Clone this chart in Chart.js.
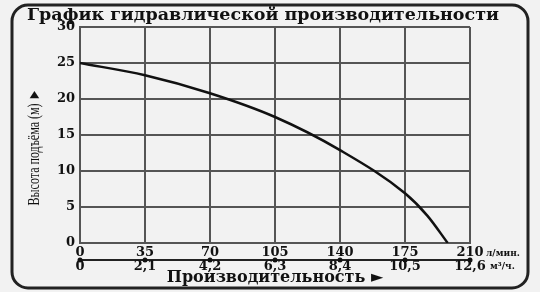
<!DOCTYPE html>
<html>
<head>
<meta charset="utf-8">
<script src="https://cdn.jsdelivr.net/npm/chart.js@4"></script>
<style>
  html, body { margin: 0; padding: 0; background: #f2f2f2; }
  #wrap { width: 540px; height: 292px; }
</style>
</head>
<body>
<div id="wrap"><canvas id="pumpChart" width="540" height="292"></canvas></div>
<script>
// flow in l/min, head in m
const flowLpm = [0, 35, 70, 105, 140, 175, 187, 198];
const headM = [25, 23.3, 20.8, 17.5, 12.9, 6.9, 3.8, 0];
const flowTicks = [0, 35, 70, 105, 140, 175, 210];
const flowM3Ticks = ['0', '2,1', '4,2', '6,3', '8,4', '10,5', '12,6'];
const headTicks = [0, 5, 10, 15, 20, 25, 30];

const serif = '"DejaVu Serif", "Liberation Serif", serif';

// frame, title, y title, unit labels and tick dots
const framePlugin = {
  id: 'frame',
  beforeDraw(chart) {
    const ctx = chart.ctx;
    ctx.save();
    ctx.fillStyle = '#f2f2f2';
    ctx.fillRect(0, 0, chart.width, chart.height);
    ctx.restore();
  },
  afterDraw(chart) {
    const ctx = chart.ctx;
    const x = chart.scales.x;
    const x2 = chart.scales.x2;
    ctx.save();
    ctx.lineWidth = 3;
    ctx.strokeStyle = '#222';
    ctx.beginPath();
    ctx.roundRect(12, 5, 516, 283, 16);
    ctx.stroke();

    ctx.fillStyle = '#111';
    ctx.textBaseline = 'middle';
    ctx.textAlign = 'center';
    ctx.font = 'bold 17.5px ' + serif;
    ctx.fillText('График гидравлической производительности', 263, 15);

    // y title, narrow
    ctx.save();
    ctx.translate(35, 147);
    ctx.rotate(-Math.PI / 2);
    ctx.font = '16px "Liberation Serif", serif';
    const yt = 'Высота подъёма (м) ►';
    const w = ctx.measureText(yt).width;
    ctx.scale(117 / w, 1);
    ctx.fillText(yt, 0, 0);
    ctx.restore();

    // units
    ctx.textAlign = 'left';
    ctx.font = 'bold 9px ' + serif;
    const px = x.getPixelForValue(210);
    ctx.fillText('л/мин.', px + 16, 254);
    ctx.fillText('м³/ч.', px + 20, 267);

    // dots on the second axis
    flowTicks.forEach(v => {
      ctx.beginPath();
      ctx.arc(x2.getPixelForValue(v), x2.top, 2.5, 0, Math.PI * 2);
      ctx.fill();
    });
    ctx.restore();
  }
};

new Chart(document.getElementById('pumpChart'), {
  type: 'line',
  data: {
    datasets: [{
      data: flowLpm.map((q, i) => ({ x: q, y: headM[i] })),
      borderColor: '#111',
      borderWidth: 2.5,
      pointRadius: 0,
      cubicInterpolationMode: 'monotone',
      fill: false
    }]
  },
  options: {
    responsive: false,
    animation: false,
    layout: { padding: { left: 0, right: 70, top: 27, bottom: 0 } },
    plugins: {
      legend: { display: false },
      tooltip: { enabled: false },
      title: { display: false }
    },
    scales: {
      x: {
        type: 'linear',
        position: 'bottom',
        min: 0, max: 210,
        afterBuildTicks: s => { s.ticks = flowTicks.map(v => ({ value: v })); },
        afterFit: s => { s.height = 17; },
        grid: { color: '#555', lineWidth: 2, drawTicks: false },
        border: { display: true, color: '#555', width: 2 },
        ticks: { color: '#111', padding: 2, maxRotation: 0, font: { family: serif, size: 13, weight: 'bold' } }
      },
      x2: {
        type: 'linear',
        position: 'bottom',
        min: 0, max: 210,
        afterBuildTicks: s => { s.ticks = flowTicks.map(v => ({ value: v })); },
        afterFit: s => { s.height = 32; },
        grid: { display: false, drawTicks: false },
        border: { display: true, color: '#222', width: 2 },
        ticks: {
          color: '#111', padding: -1, maxRotation: 0,
          font: { family: serif, size: 13, weight: 'bold' },
          callback: (v) => flowM3Ticks[flowTicks.indexOf(v)]
        },
        title: {
          display: true,
          text: 'Производительность ►',
          color: '#111',
          font: { family: serif, size: 16, weight: 'bold' },
          padding: { top: 0, bottom: 5 }
        }
      },
      y: {
        min: 0, max: 30,
        afterBuildTicks: s => { s.ticks = headTicks.map(v => ({ value: v })); },
        afterFit: s => { s.width = 80; },
        grid: { color: '#555', lineWidth: 2, drawTicks: false },
        border: { display: true, color: '#555', width: 2 },
        ticks: { color: '#111', padding: 5, font: { family: serif, size: 13, weight: 'bold' } }
      }
    }
  },
  plugins: [framePlugin]
});
</script>
</body>
</html>
